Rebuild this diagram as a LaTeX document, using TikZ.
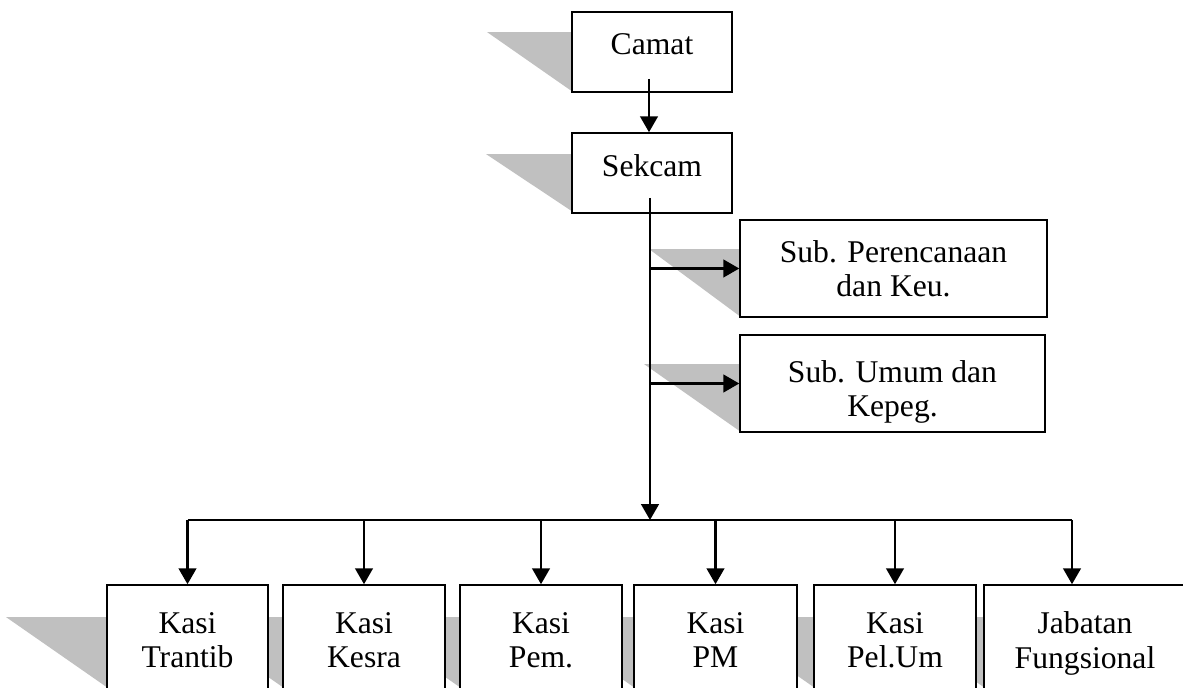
\documentclass[tikz,border=0pt]{standalone}
\usepackage{fontspec}
\setmainfont{Liberation Serif}
\usetikzlibrary{positioning}
\usetikzlibrary{calc}
\usetikzlibrary{arrows.meta}
\usetikzlibrary{backgrounds}
\definecolor{shadow-grey}{HTML}{C0C0C0}
\colorlet{boxline}{black}
\newcommand{\orgshadow}[4]{%
% slanted shadow on the left of a box
\fill[shadow-grey] ($(#1.north west)+(0,#2)$) -- ++(-#3,0) -- ($(#1.south west)+(0,-#4)$) -- cycle;
}

\begin{document}
\begin{tikzpicture}[x=0.02cm, y=-0.02cm,
  font=\fontsize{18}{19.5}\selectfont,
  orgbox/.style={draw=boxline, line width=0.9pt, fill=white, align=center, inner sep=0pt, text depth=0pt},
  kasibox/.style={orgbox, minimum height=2.2cm},
  link/.style={line width=1.3pt},
  arrowlink/.style={link, -{Triangle[length=9pt,width=10pt]}}]
\useasboundingbox (0,0) rectangle (1183,688);
% top of the chart
\node[orgbox, minimum width=3.2cm, minimum height=1.6cm, text depth=9pt] (camat) at (652,52) {Camat};
\node[orgbox, minimum width=3.2cm, minimum height=1.6cm, text depth=9pt] (sekcam) at (652,173) {Sekcam};
\node[orgbox, minimum width=6.14cm, minimum height=1.94cm] (subren) at (893.5,268.5) {Sub. Perencanaan\\dan Keu.};
\node[orgbox, minimum width=6.1cm, minimum height=1.94cm] (subum) at (892.5,383.5) {\rule{0pt}{18pt}Sub. Umum dan\\Kepeg.};
% sections
\node[kasibox, minimum width=3.22cm] (trantib) at (187.5,640) {Kasi\\Trantib};
\node[kasibox, minimum width=3.24cm] (kesra) at (364,640) {Kasi\\Kesra};
\node[kasibox, minimum width=3.24cm] (pem) at (541,640) {Kasi\\Pem.};
\node[kasibox, minimum width=3.26cm] (pm) at (715.5,640) {Kasi\\PM};
\node[kasibox, minimum width=3.24cm] (pelum) at (895,640) {Kasi\\Pel.Um};
\node[kasibox, minimum width=4.04cm] (jabfung) at (1085,640) {Jabatan\\Fungsional};
\coordinate (bus) at (650,520);
\coordinate (jabtop) at ($(jabfung.north)+(-13,0)$);
% connectors
\draw[arrowlink] ($(camat.south)+(-3,-14)$) -- ($(sekcam.north)+(-3,0)$);
\draw[arrowlink] ($(bus |- sekcam.south)+(0,-16)$) -- (bus);
\draw[arrowlink] (bus |- subren.west) -- (subren.west);
\draw[arrowlink] (bus |- subum.west) -- (subum.west);
\draw[link] (bus -| trantib.north) -- (bus -| jabtop);
\foreach \sect in {trantib,kesra,pem,pm,pelum,jabtop} {
  \draw[arrowlink] (bus -| \sect) -- (\sect);
}
\begin{scope}[on background layer]
\orgshadow{camat}{21}{84}{2}
\orgshadow{sekcam}{22}{85}{3}
\orgshadow{subren}{30}{90}{2}
\orgshadow{subum}{30}{95}{2}
\foreach \sect in {trantib,kesra,pem,pm,pelum,jabfung} {
  \orgshadow{\sect}{33}{100}{9}
}
\end{scope}
\end{tikzpicture}
\end{document}
